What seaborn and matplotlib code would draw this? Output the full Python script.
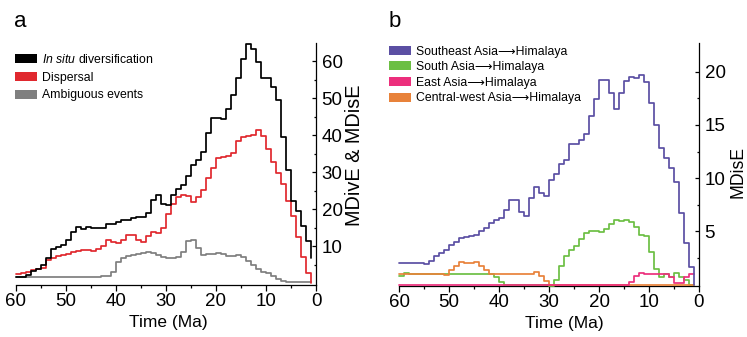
import numpy as np
import pandas as pd
import matplotlib
matplotlib.use("Agg")
import matplotlib.pyplot as plt
import seaborn as sns
from matplotlib.patches import Patch
from matplotlib.ticker import FixedLocator

# ---------------- data (value of each 1-Ma bin, from 60 Ma to 1 Ma; last = end value) ----------------
time_ma = list(range(60, 0, -1))

insitu = [1.6, 1.6, 2.2, 3.3, 3.7, 5.0, 6.9, 9.3, 9.8, 10.3,
          11.6, 13.9, 15.2, 14.6, 15.2, 14.8, 14.8, 15.0, 15.9, 16.1,
          16.6, 17.0, 17.0, 17.7, 17.9, 18.0, 19.0, 22.6, 23.8, 21.4,
          21.1, 23.8, 25.6, 26.7, 28.9, 32.0, 33.4, 35.5, 40.6, 44.6,
          44.6, 44.4, 47.1, 51.0, 55.6, 60.8, 64.6, 63.5, 59.9, 55.4,
          55.4, 53.2, 49.5, 39.6, 30.5, 22.3, 19.4, 15.4, 11.4, 6.8]

dispersal = [2.5, 2.7, 3.1, 3.5, 3.9, 4.1, 6.3, 6.9, 7.3, 7.6,
             8.0, 8.5, 8.7, 8.9, 9.1, 8.7, 9.2, 10.1, 11.6, 11.2,
             10.9, 11.6, 13.0, 13.0, 11.6, 11.2, 12.7, 13.9, 13.6, 14.8,
             18.8, 21.5, 23.3, 23.8, 23.5, 22.0, 23.3, 25.3, 28.5, 31.3,
             33.8, 34.1, 34.3, 35.2, 38.6, 39.5, 39.7, 40.0, 41.4, 39.8,
             36.2, 32.9, 29.7, 26.8, 22.2, 18.2, 12.6, 7.2, 2.7, 0.0]

ambiguous = [1.7, 1.7, 1.7, 1.7, 1.7, 1.7, 1.7, 1.7, 1.7, 1.7,
             1.7, 1.7, 1.7, 1.7, 1.7, 1.7, 1.7, 2.0, 2.0, 3.1,
             5.8, 6.9, 7.3, 7.7, 8.0, 8.2, 8.3, 8.2, 7.6, 7.1,
             6.8, 6.8, 7.1, 8.5, 11.4, 11.7, 9.4, 7.6, 7.9, 8.0,
             8.2, 7.8, 7.4, 7.3, 7.6, 7.1, 6.0, 4.9, 3.7, 3.1,
             2.7, 2.0, 1.0, 0.5, 0.3, 0.3, 0.3, 0.3, 0.3, 0.3]

se_asia = [2.0, 2.0, 2.0, 2.0, 2.0, 1.9, 2.27, 2.74, 3.0, 3.3,
           3.74, 4.0, 4.36, 4.45, 4.6, 4.67, 5.08, 5.3, 5.8, 6.1,
           6.3, 7.0, 8.0, 8.0, 6.85, 6.5, 8.1, 9.2, 8.6, 8.3,
           9.8, 10.4, 11.3, 11.7, 13.2, 13.2, 13.6, 14.2, 15.8, 17.4,
           19.2, 19.2, 18.0, 16.5, 18.0, 19.1, 19.5, 19.4, 19.7, 19.0,
           17.1, 15.0, 12.8, 11.9, 11.0, 9.6, 6.7, 3.9, 1.65, 0.0]

s_asia = [0.78, 1.1, 1.0, 1.0, 1.0, 1.0, 1.0, 1.0, 1.0, 1.0,
          1.0, 1.0, 1.0, 1.0, 1.0, 1.0, 1.0, 1.0, 1.0, 0.7,
          0.3, 0.0, 0.0, 0.0, 0.0, 0.0, 0.0, 0.0, 0.0, 0.0,
          -0.1, 0.4, 1.74, 2.74, 3.3, 3.68, 4.3, 4.86, 5.08, 5.0,
          4.95, 5.23, 5.7, 6.1, 6.0, 6.1, 5.86, 5.39, 4.67, 4.55,
          3.1, 1.5, 0.72, 1.03, 0.72, 1.09, 0.72, 0.4, 0.0, 0.0]

e_asia = [0.0] * 46 + [0.3, 0.8, 1.1, 1.05, 1.05, 1.0, 1.0, 1.05,
                       0.72, 0.2, 0.2, 0.72, 1.03, 1.03]

cw_asia = [1.05, 1.05, 1.05, 1.05, 1.05, 1.05, 1.05, 1.05, 1.05, 0.93,
           1.35, 1.75, 2.1, 2.05, 2.05, 2.1, 1.75, 1.35, 1.05, 1.05,
           1.05, 1.05, 1.05, 1.05, 1.05, 1.05, 1.05, 1.15, 0.78, 0.37,
           -0.05, 0.0, 0.0, 0.0, 0.0, 0.0, 0.0, 0.0, 0.0, 0.0,
           0.0, 0.0, 0.0, 0.0, 0.0, 0.0, 0.0, 0.0, 0.0, 0.0,
           0.0, 0.0, 0.0, 0.0, 0.0, 0.0, 0.0, 0.0, 0.0, 0.0]

labels_a = [r"$\mathit{In\ situ}$ diversification", "Dispersal", "Ambiguous events"]
colors_a = ["#000000", "#e0282e", "#7f7f7f"]
labels_b = ["Southeast Asia\u27f6Himalaya", "South Asia\u27f6Himalaya",
            "East Asia\u27f6Himalaya", "Central-west Asia\u27f6Himalaya"]
colors_b = ["#5b4fa3", "#6cbf44", "#ec2f7c", "#e8823a"]

xticks_major = [60, 50, 40, 30, 20, 10, 0]

# ---------------- style ----------------
sns.set_theme(style="white", rc={"axes.edgecolor": "black", "xtick.color": "black",
                                 "ytick.color": "black", "text.color": "black",
                                 "axes.labelcolor": "black"})
plt.rcParams["font.family"] = ["Liberation Sans", "DejaVu Sans"]
plt.rcParams["mathtext.fontset"] = "custom"
plt.rcParams["mathtext.it"] = "Liberation Sans:italic"
plt.rcParams["mathtext.rm"] = "Liberation Sans"

W, H = 747, 337
fig = plt.figure(figsize=(W / 100, H / 100), dpi=100)
fig.patch.set_facecolor("white")
axa = fig.add_axes([16 / W, (H - 285) / H, 300 / W, 242 / H])
axb = fig.add_axes([399 / W, (H - 286) / H, 300 / W, 243 / H])


def draw_step(ax, values, color, z):
    df = pd.DataFrame({"t": time_ma, "v": values})
    sns.lineplot(data=df, x="t", y="v", ax=ax, color=color, linewidth=1.25,
                 drawstyle="steps-post", sort=False, estimator=None,
                 zorder=z, clip_on=False)


# panel a
draw_step(axa, ambiguous, colors_a[2], 3)
draw_step(axa, dispersal, colors_a[1], 4)
draw_step(axa, insitu, colors_a[0], 5)
# panel b
draw_step(axb, se_asia, colors_b[0], 6)
draw_step(axb, s_asia, colors_b[1], 3)
draw_step(axb, cw_asia, colors_b[3], 4)
draw_step(axb, e_asia, colors_b[2], 5)

for ax in (axa, axb):
    ax.set_facecolor("white")
    ax.grid(False)
    ax.set_xlim(60, 0)
    for s in ("left", "top"):
        ax.spines[s].set_visible(False)
    for s in ("bottom", "right"):
        ax.spines[s].set_linewidth(0.9)
        ax.spines[s].set_color("black")
    ax.xaxis.set_major_locator(FixedLocator(xticks_major))
    ax.xaxis.set_minor_locator(FixedLocator([55, 45, 35, 25, 15, 5]))
    ax.tick_params(axis="x", which="major", direction="out", length=4, width=0.9,
                   labelsize=13.5, pad=2, bottom=True, top=False)
    ax.tick_params(axis="x", which="minor", direction="out", length=2.4, width=0.9,
                   bottom=True, top=False)
    ax.yaxis.tick_right()
    ax.yaxis.set_label_position("right")
    ax.tick_params(axis="y", which="major", direction="in", length=2.8, width=0.9,
                   labelsize=13.5, pad=4, right=True, left=False,
                   labelright=True, labelleft=False)
    ax.tick_params(axis="y", which="minor", direction="in", length=1.7, width=0.9,
                   right=True, left=False)

axa.set_ylim(-0.5, 65)
axa.yaxis.set_major_locator(FixedLocator([10, 20, 30, 40, 50, 60]))
axa.yaxis.set_minor_locator(FixedLocator([5, 15, 25, 35, 45, 55]))
axb.set_ylim(-0.12, 22.7)
axb.yaxis.set_major_locator(FixedLocator([5, 10, 15, 20]))
axb.yaxis.set_minor_locator(FixedLocator([2.5, 7.5, 12.5, 17.5]))

# axis labels
axa.set_xlabel("Time (Ma)", fontsize=12.5)
axa.xaxis.label.set_va("center")
axa.xaxis.set_label_coords((168 - 16) / 300, (285 - 323) / 242)
axb.set_xlabel("Time (Ma)", fontsize=12.5)
axb.xaxis.label.set_va("center")
axb.xaxis.set_label_coords((564 - 399) / 300, (286 - 323.5) / 243)

axa.set_ylabel("MDivE & MDisE", fontsize=14.3)
axa.yaxis.label.set_va("center")
axa.yaxis.set_label_coords((355 - 16) / 300, (285 - 155.5) / 242)
axb.set_ylabel("MDisE", fontsize=12.7)
axb.yaxis.label.set_va("center")
axb.yaxis.set_label_coords((738 - 399) / 300, (286 - 172.5) / 243)

# legends
handles_a = [Patch(facecolor=c, edgecolor="none") for c in colors_a]
leg_a = axa.legend(handles_a, labels_a, loc="upper left",
                   bbox_to_anchor=(15 / W, 1 - 53 / H), bbox_transform=fig.transFigure,
                   frameon=False, fontsize=8.8, borderpad=0, borderaxespad=0,
                   handlelength=1.8, handleheight=0.75, handletextpad=0.38,
                   labelspacing=0.47)
handles_b = [Patch(facecolor=c, edgecolor="none") for c in colors_b]
leg_b = axb.legend(handles_b, labels_b, loc="upper left",
                   bbox_to_anchor=(389 / W, 1 - 45.5 / H), bbox_transform=fig.transFigure,
                   frameon=False, fontsize=8.8, borderpad=0, borderaxespad=0,
                   handlelength=1.8, handleheight=0.75, handletextpad=0.38,
                   labelspacing=0.3)

# panel letters
fig.text(14 / W, 1 - 27 / H, "a", fontsize=16, va="baseline", ha="left")
fig.text(389 / W, 1 - 27 / H, "b", fontsize=16, va="baseline", ha="left")

fig.savefig("out.png", dpi=100, facecolor="white")
